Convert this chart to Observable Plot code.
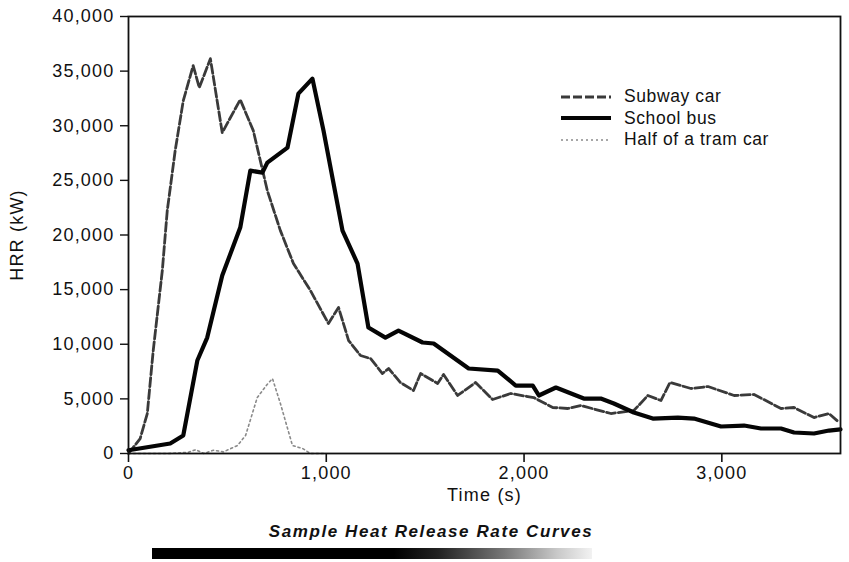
<!DOCTYPE html>
<html>
<head>
<meta charset="utf-8">
<script src="https://cdn.jsdelivr.net/npm/d3@7"></script>
<script src="https://cdn.jsdelivr.net/npm/@observablehq/plot@0.6"></script>
<style>
  html, body { margin: 0; padding: 0; background: #fff; }
  #wrap { position: relative; width: 849px; height: 562px; font-family: "Liberation Sans", Arial, sans-serif; }
  #chart svg text { letter-spacing: 1.2px; }
  #legend { position: absolute; left: 560px; top: 86px; font-size: 17.5px; letter-spacing: 0.6px; color: #111; }
  #legend .row { display: flex; align-items: center; height: 21.5px; }
  #legend svg { width: 52px; height: 10px; margin-right: 12px; }
  #title { position: absolute; left: 0; width: 862px; top: 522px; text-align: center; font-weight: bold; font-style: italic; font-size: 17px; letter-spacing: 1.6px; color: #111; }
  #bar { position: absolute; left: 152px; top: 548px; width: 440px; height: 11px;
         background: linear-gradient(to right, #000 0%, #000 55%, #222 65%, #777 80%, #c8c8c8 92%, #f2f2f2 100%); }
</style>
</head>
<body>
<div id="wrap">
  <div id="chart"></div>
  <div id="legend"></div>
  <div id="title">Sample Heat Release Rate Curves</div>
  <div id="bar"></div>
</div>
<script>
// ---- data ----
const subwayT = [0, 59, 95, 125, 171, 196, 236, 277, 327, 358, 414, 474, 565, 631, 702, 768, 834, 920, 1011, 1062, 1113, 1173, 1224, 1284, 1315, 1375, 1441, 1477, 1563, 1593, 1664, 1755, 1841, 1932, 2049, 2145, 2221, 2287, 2439, 2555, 2626, 2692, 2738, 2844, 2930, 3062, 3163, 3299, 3365, 3466, 3542, 3593];
const subwayV = [0, 1370, 3660, 9420, 16750, 22230, 27720, 32300, 35500, 33490, 36140, 29370, 32390, 29550, 24060, 20400, 17390, 14910, 11900, 13360, 10340, 8970, 8690, 7320, 7780, 6500, 5760, 7320, 6410, 7230, 5310, 6500, 4940, 5490, 5120, 4210, 4120, 4390, 3660, 3930, 5310, 4850, 6500, 5950, 6130, 5310, 5400, 4120, 4210, 3290, 3660, 2840];

const busT = [0, 211, 277, 348, 398, 474, 565, 616, 677, 702, 804, 859, 930, 986, 1082, 1158, 1213, 1299, 1365, 1487, 1543, 1720, 1867, 1958, 2044, 2075, 2161, 2302, 2388, 2454, 2555, 2651, 2778, 2859, 2996, 3112, 3198, 3299, 3365, 3466, 3542, 3600];
const busV = [300, 920, 1650, 8510, 10610, 16290, 20680, 25890, 25710, 26630, 28000, 32940, 34310, 29550, 20400, 17390, 11530, 10610, 11250, 10160, 10070, 7780, 7590, 6220, 6220, 5310, 6040, 5030, 5030, 4580, 3750, 3200, 3290, 3200, 2470, 2560, 2290, 2290, 1920, 1830, 2100, 2200];

const tramT = [0, 200, 300, 340, 380, 430, 480, 551, 592, 651, 700, 728, 768, 829, 880, 920, 1000];
const tramV = [0, 0, 100, 350, 0, 300, 150, 730, 1650, 5120, 6300, 6860, 4580, 730, 460, 0, 0];

const xTicks = [0, 1000, 2000, 3000];
const yTicks = [0, 5000, 10000, 15000, 20000, 25000, 30000, 35000, 40000];

const seriesNames = ["Subway car", "School bus", "Half of a tram car"];
const styles = {
  "Subway car": { stroke: "#3a3a3a", strokeWidth: 2.8, strokeDasharray: "9,3" },
  "School bus": { stroke: "#050505", strokeWidth: 4.2, strokeDasharray: null },
  "Half of a tram car": { stroke: "#8a8a8a", strokeWidth: 1.6, strokeDasharray: "2,3" }
};

const toRows = (ts, vs) => ts.map((t, i) => ({ t, v: vs[i] }));
const subway = toRows(subwayT, subwayV);
const bus = toRows(busT, busV);
const tram = toRows(tramT, tramV);

const lineMark = (data, name) => Plot.line(data, {
  x: "t", y: "v",
  stroke: styles[name].stroke,
  strokeWidth: styles[name].strokeWidth,
  strokeDasharray: styles[name].strokeDasharray,
  strokeLinejoin: "round"
});

const chart = Plot.plot({
  width: 849,
  height: 508,
  marginLeft: 128,
  marginRight: 9,
  marginTop: 16,
  marginBottom: 55,
  style: { fontFamily: "Liberation Sans, Arial, sans-serif", fontSize: "18px", color: "#111", background: "#fff", overflow: "visible" },
  x: { domain: [0, 3600] },
  y: { domain: [0, 40000] },
  marks: [
    lineMark(tram, "Half of a tram car"),
    lineMark(subway, "Subway car"),
    lineMark(bus, "School bus"),
    Plot.frame({ stroke: "#111", strokeWidth: 1.8 }),
    Plot.axisX({ ticks: xTicks, tickFormat: d3.format(","), tickSize: 9, tickPadding: 4, strokeWidth: 1.6,
                 label: "Time (s)", labelAnchor: "center", labelArrow: "none", labelOffset: 47, fontSize: 18 }),
    Plot.axisY({ ticks: yTicks, tickFormat: d3.format(","), tickSize: 8, tickPadding: 6, strokeWidth: 1.4,
                 label: "HRR (kW)", labelAnchor: "center", labelOffset: 118, labelArrow: "none", fontSize: 18 })
  ]
});
document.getElementById("chart").appendChild(chart);

// legend
const legend = document.getElementById("legend");
for (const name of seriesNames) {
  const s = styles[name];
  const row = document.createElement("div");
  row.className = "row";
  row.innerHTML = `<svg viewBox="0 0 52 10"><line x1="1" y1="5" x2="51" y2="5" stroke="${s.stroke}" stroke-width="${s.strokeWidth}" ${s.strokeDasharray ? `stroke-dasharray="${s.strokeDasharray}"` : ""}/></svg><span>${name}</span>`;
  legend.appendChild(row);
}
</script>
</body>
</html>
